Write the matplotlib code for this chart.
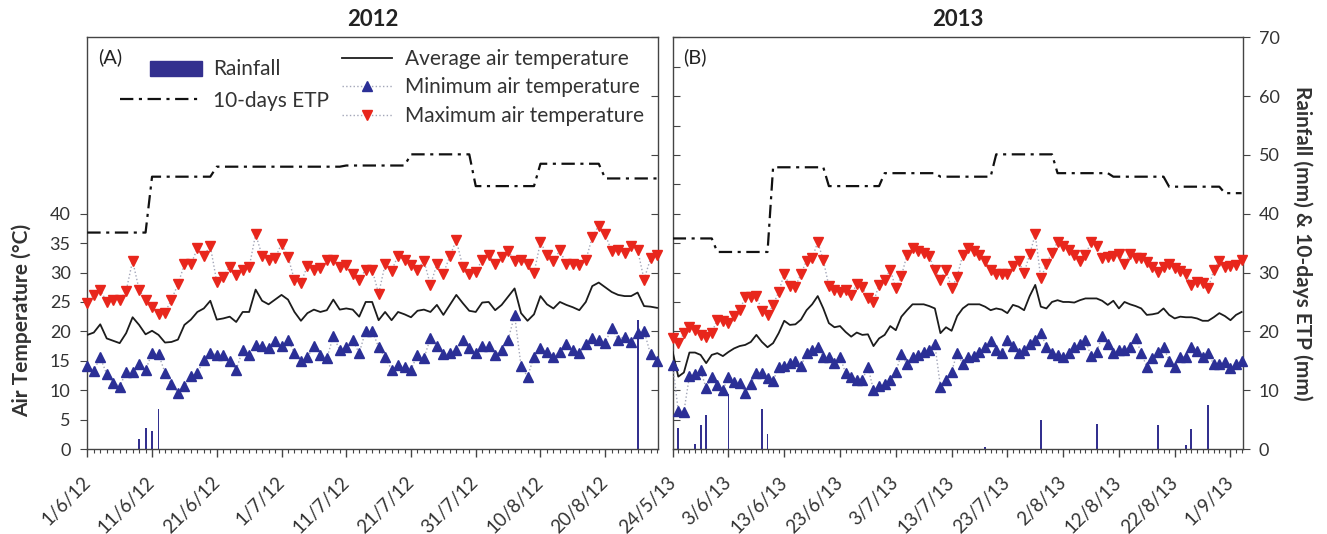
import numpy as np
import pandas as pd
import matplotlib
matplotlib.use("Agg")
import matplotlib.pyplot as plt
import matplotlib.dates as mdates
from matplotlib.lines import Line2D
from matplotlib.patches import Patch, Rectangle
from matplotlib.legend_handler import HandlerPatch

plt.rcParams['font.family'] = ['Lato', 'DejaVu Sans']

# ------------------------- data: 2012 (panel A) -------------------------
start_2012 = "2012-06-01"
tmax_2012 = [24.8, 26.2, 27.1, 25.0, 25.4, 25.3, 26.9, 32.0, 27.1, 25.4,
             24.2, 22.9, 23.2, 25.4, 28.0, 31.4, 31.4, 34.1, 32.9, 34.5,
             28.4, 29.3, 31.0, 29.6, 30.5, 30.9, 36.5, 32.9, 32.1, 32.4,
             34.9, 32.7, 28.7, 28.3, 31.1, 30.4, 30.7, 32.1, 32.1, 31.0,
             31.3, 29.8, 28.8, 30.5, 30.5, 26.4, 31.4, 30.3, 32.9, 32.1,
             31.3, 30.5, 32.0, 27.9, 31.4, 29.8, 32.8, 35.5, 31.0, 29.7,
             30.1, 32.2, 33.0, 31.5, 32.6, 33.7, 32.0, 32.1, 31.4, 29.9,
             35.2, 33.0, 32.0, 33.8, 31.4, 31.4, 31.3, 32.1, 36.0, 38.0,
             36.5, 33.6, 33.9, 33.4, 34.6, 33.9, 28.8, 32.4, 33.0]
tmin_2012 = [14.1, 13.3, 15.6, 12.7, 11.3, 10.6, 13.1, 13.1, 14.4, 13.4,
             16.3, 16.1, 13.0, 11.0, 9.6, 10.7, 12.4, 12.9, 15.2, 16.3,
             16.0, 16.0, 15.0, 13.5, 16.8, 16.0, 17.7, 17.5, 17.1, 18.4,
             17.5, 18.6, 16.3, 15.0, 15.6, 17.5, 16.0, 15.4, 19.2, 16.8,
             17.3, 18.5, 16.3, 20.1, 20.1, 17.3, 15.6, 13.5, 14.2, 14.0,
             13.5, 16.0, 15.4, 18.9, 17.5, 16.1, 16.3, 16.8, 18.5, 17.1,
             16.3, 17.5, 17.5, 16.0, 16.9, 18.5, 22.8, 14.1, 12.3, 15.7,
             17.1, 16.5, 15.7, 16.5, 17.8, 16.8, 16.3, 17.8, 18.9, 18.5,
             18.1, 20.5, 18.6, 19.1, 18.2, 19.8, 20.1, 16.1, 15.0]
tavg_2012 = [19.4, 19.8, 21.2, 18.8, 18.4, 18.0, 19.7, 22.4, 21.1, 19.5,
             20.1, 19.4, 18.1, 18.2, 18.6, 21.1, 22.0, 23.3, 23.9, 25.2,
             22.0, 22.2, 22.5, 21.6, 23.3, 23.3, 27.1, 25.2, 24.6, 25.4,
             26.2, 25.4, 23.3, 21.8, 23.1, 23.7, 23.3, 23.6, 25.4, 23.7,
             23.9, 23.7, 22.5, 25.0, 25.0, 21.9, 23.3, 21.9, 23.3, 22.9,
             22.4, 23.5, 23.7, 23.3, 24.5, 22.8, 24.5, 26.2, 24.8, 23.5,
             23.3, 24.9, 25.0, 23.6, 24.5, 25.9, 27.3, 23.1, 21.8, 22.9,
             26.0, 24.6, 23.9, 25.0, 24.5, 24.1, 23.6, 25.0, 27.7, 28.3,
             27.5, 26.7, 26.2, 26.0, 26.0, 26.6, 24.3, 24.2, 24.0]
rain_dates_2012 = ["2012-06-09", "2012-06-10", "2012-06-11", "2012-06-12", "2012-08-25"]
rain_mm_2012 = [1.7, 3.6, 3.0, 6.8, 22.0]
etp_2012 = [36.8, 46.3, 48.0, 48.0, 48.2, 50.1, 44.7, 48.5, 46.0]
etp_ndays_2012 = [10, 10, 10, 10, 10, 10, 10, 10, 9]

# ------------------------- data: 2013 (panel B) -------------------------
start_2013 = "2013-05-24"
tmax_2013 = [18.8, 18.0, 19.7, 20.7, 20.2, 19.4, 19.1, 19.8, 22.0, 21.8,
             21.4, 22.6, 23.6, 25.8, 25.8, 26.0, 23.5, 22.8, 24.5, 26.7,
             29.8, 27.7, 27.6, 29.8, 32.0, 32.4, 35.2, 32.1, 27.7, 27.0,
             26.7, 27.1, 26.2, 28.0, 27.5, 25.6, 25.0, 27.9, 28.8, 30.5,
             27.3, 29.4, 33.0, 34.1, 33.7, 33.4, 32.8, 30.4, 28.8, 30.5,
             27.3, 29.3, 33.0, 34.1, 33.7, 33.0, 32.0, 30.4, 29.7, 29.7,
             29.8, 31.1, 32.0, 29.9, 33.1, 36.5, 29.0, 31.4, 33.4, 35.2,
             34.5, 33.8, 33.0, 32.0, 33.0, 35.2, 34.5, 32.5, 32.7, 32.8,
             33.1, 31.4, 33.1, 32.5, 32.4, 31.8, 31.0, 30.1, 30.9, 31.4,
             30.7, 30.3, 29.8, 27.9, 28.4, 28.2, 27.3, 30.4, 32.0, 30.9,
             31.1, 31.3, 32.2]
tmin_2013 = [14.3, 6.5, 6.3, 12.4, 12.7, 13.4, 10.3, 12.3, 10.9, 10.1,
             12.2, 11.4, 11.3, 9.6, 11.0, 13.0, 13.0, 12.0, 11.6, 13.9,
             14.1, 14.6, 15.0, 14.1, 16.3, 16.8, 17.3, 15.7, 15.6, 14.7,
             15.7, 12.9, 12.2, 11.8, 11.7, 14.0, 10.0, 10.7, 11.0, 11.7,
             13.1, 16.1, 14.4, 15.6, 16.0, 16.5, 16.9, 17.8, 10.6, 11.7,
             13.1, 16.4, 14.4, 15.6, 15.8, 16.5, 17.3, 18.3, 16.8, 16.3,
             18.5, 17.5, 16.3, 16.8, 17.8, 18.6, 19.8, 17.3, 16.3, 16.0,
             15.6, 16.3, 17.3, 17.8, 18.5, 15.8, 16.5, 19.2, 17.9, 16.3,
             16.9, 16.9, 17.3, 18.8, 16.3, 14.0, 15.4, 16.5, 17.4, 15.0,
             14.0, 15.6, 15.7, 17.4, 16.7, 15.7, 16.3, 14.4, 14.5, 14.8,
             13.7, 14.4, 15.0]
tavg_2013 = [16.5, 12.3, 13.0, 16.4, 16.4, 16.0, 14.6, 16.0, 16.3, 15.8,
             16.5, 17.1, 17.5, 17.7, 18.2, 19.4, 18.2, 17.3, 18.0, 19.7,
             21.8, 21.1, 21.2, 22.0, 23.6, 24.6, 26.0, 23.9, 21.4, 20.7,
             20.9, 19.9, 19.1, 19.8, 19.4, 19.5, 17.5, 18.8, 19.4, 20.9,
             20.2, 22.5, 23.6, 24.6, 24.6, 24.6, 24.3, 23.9, 19.7, 20.7,
             20.1, 22.6, 23.9, 24.6, 24.6, 24.6, 24.2, 23.6, 23.9, 23.7,
             23.1, 24.5, 24.2, 23.6, 26.0, 27.9, 24.2, 23.9, 25.0, 25.3,
             25.0, 25.0, 24.9, 25.3, 25.6, 25.6, 25.6, 25.2, 24.5, 25.2,
             23.9, 25.0, 24.6, 24.3, 23.9, 22.8, 22.9, 23.1, 23.9, 22.8,
             22.2, 22.5, 22.4, 22.4, 22.2, 21.8, 21.8, 22.4, 23.1, 22.6,
             21.9, 22.8, 23.3]
rain_dates_2013 = ["2013-05-25", "2013-05-28", "2013-05-29", "2013-05-30", "2013-06-03",
                   "2013-06-09", "2013-06-10", "2013-07-19", "2013-07-29", "2013-08-08",
                   "2013-08-19", "2013-08-24", "2013-08-25", "2013-08-28"]
rain_mm_2013 = [3.6, 0.9, 4.1, 5.7, 9.4, 6.8, 2.6, 0.3, 4.9, 4.3, 4.1, 0.6, 3.4, 7.5]
etp_2013 = [35.8, 33.5, 47.9, 44.7, 46.9, 46.3, 50.1, 46.9, 46.3, 44.6, 43.5]
etp_ndays_2013 = [8, 10, 10, 10, 10, 10, 11, 10, 10, 10, 4]

# ------------------------- style -------------------------
RAIN_C = "#33308f"
MIN_C = "#2b2f96"
MAX_C = "#e8261c"
AVG_C = "#1c1c1c"
DOT_C = "#a3a6b8"
AX_C = "#444444"
TXT_C = "#333333"
ETP_LS = (0, (6, 2.5, 1.4, 2.5))

W, H = 1327, 534
fig = plt.figure(figsize=(W / 100, H / 100), dpi=100)
ax1 = fig.add_axes([87.3 / W, (H - 449) / H, 571 / W, 411.7 / H])
ax2 = fig.add_axes([672.7 / W, (H - 449) / H, 570.6 / W, 411.7 / H])


def draw_panel(ax, start, tmax, tmin, tavg, rain_dates, rain_mm, etp, etp_nd,
               span, bar_w, n_major):
    days = pd.date_range(start, periods=len(tavg), freq="D")
    x = mdates.date2num(days)
    x0 = mdates.date2num(pd.Timestamp(start))
    rx = mdates.date2num(pd.to_datetime(rain_dates))
    ax.bar(rx, rain_mm, width=bar_w, color=RAIN_C, zorder=2)
    etp_daily = np.repeat(etp, etp_nd)
    ax.plot(x, etp_daily, color="#111111", lw=1.6, ls=ETP_LS, zorder=3)
    ax.plot(x, tavg, color=AVG_C, lw=1.3, zorder=4)
    ax.plot(x, tmin, ls=":", color=DOT_C, lw=1.0, marker="^", ms=6.5,
            mfc=MIN_C, mec=MIN_C, zorder=5, clip_on=False)
    ax.plot(x, tmax, ls=":", color=DOT_C, lw=1.0, marker="v", ms=6.5,
            mfc=MAX_C, mec=MAX_C, zorder=5, clip_on=False)
    ax.set_xlim(x0, x0 + span)
    ax.set_ylim(0, 70)
    major = pd.date_range(start, periods=n_major, freq="10D")
    ax.set_xticks(mdates.date2num(major))
    ax.set_xticklabels([f"{d.day}/{d.month}/{d:%y}" for d in major],
                       rotation=45, ha="right", va="center",
                       rotation_mode="anchor", fontsize=13.5, color=TXT_C)
    minor = mdates.date2num(pd.date_range(start, periods=int(span) + 1, freq="D"))
    ax.set_xticks(minor, minor=True)
    ax.tick_params(axis="x", which="major", direction="out", length=6,
                   width=1, color=AX_C, pad=16)
    ax.tick_params(axis="x", which="minor", direction="out", length=3,
                   width=0.8, color=AX_C)
    for s in ax.spines.values():
        s.set_color(AX_C)
        s.set_linewidth(1.0)


draw_panel(ax1, start_2012, tmax_2012, tmin_2012, tavg_2012, rain_dates_2012,
           rain_mm_2012, etp_2012, etp_ndays_2012, 88.2, 0.3, 9)
draw_panel(ax2, start_2013, tmax_2013, tmin_2013, tavg_2013, rain_dates_2013,
           rain_mm_2013, etp_2013, etp_ndays_2013, 102.3, 0.35, 11)

# y axes
ax1.set_yticks(range(0, 41, 5))
ax1.tick_params(axis="y", direction="out", length=5, color=AX_C,
                labelsize=13, labelcolor=TXT_C, pad=7)
ax1r = ax1.twinx()
ax1r.set_ylim(0, 70)
ax1r.set_yticks(range(0, 71, 10))
ax1r.tick_params(axis="y", direction="in", length=5, color=AX_C, labelright=False)
for s in ax1r.spines.values():
    s.set_visible(False)

ax2.set_yticks(range(0, 71, 5))
ax2.tick_params(axis="y", direction="in", length=5, color=AX_C, labelleft=False)
ax2r = ax2.twinx()
ax2r.set_ylim(0, 70)
ax2r.set_yticks(range(0, 71, 10))
ax2r.tick_params(axis="y", direction="out", length=5, color=AX_C,
                 labelsize=13, labelcolor=TXT_C, pad=6)
for s in ax2r.spines.values():
    s.set_visible(False)

# texts
fig.text(22 / W, 1 - 320 / H, "Air Temperature (°C)", rotation=90, ha="center",
         va="center", fontsize=15, fontweight="bold", color=TXT_C)
fig.text(1302 / W, 1 - 243 / H, "Rainfall (mm) & 10-days ETP (mm)", rotation=270,
         ha="center", va="center", fontsize=15, fontweight="bold", color=TXT_C)
fig.text(373 / W, 1 - 19 / H, "2012", ha="center", va="center", fontsize=16,
         fontweight="bold", color="#222222")
fig.text(958 / W, 1 - 19 / H, "2013", ha="center", va="center", fontsize=16,
         fontweight="bold", color="#222222")
fig.text(110 / W, 1 - 57 / H, "(A)", ha="center", va="center", fontsize=14.5, color="#222222")
fig.text(695 / W, 1 - 57 / H, "(B)", ha="center", va="center", fontsize=14.5, color="#222222")


# legends
def rain_patch(legend, orig_handle, xdescent, ydescent, width, height, fontsize):
    return Rectangle((-xdescent + 0.37 * width, -ydescent - 0.05 * height),
                     0.63 * width, 1.0 * height)


h1 = [Patch(facecolor=RAIN_C, edgecolor=RAIN_C),
      Line2D([], [], color="#111111", lw=1.6, ls=ETP_LS)]
leg1 = ax1.legend(h1, ["Rainfall", "10-days ETP"], loc="upper left",
                  bbox_to_anchor=(0.057, 0.947), frameon=False, fontsize=15,
                  handlelength=3.94, handletextpad=0.53, labelspacing=0.56,
                  borderpad=0, borderaxespad=0, labelcolor=TXT_C,
                  handler_map={Patch: HandlerPatch(patch_func=rain_patch)})
ax1.add_artist(leg1)
h2 = [Line2D([], [], color=AVG_C, lw=1.3),
      Line2D([], [], ls=":", color=DOT_C, lw=1.0, marker="^", ms=6.5, mfc=MIN_C, mec=MIN_C),
      Line2D([], [], ls=":", color=DOT_C, lw=1.0, marker="v", ms=6.5, mfc=MAX_C, mec=MAX_C)]
ax1.legend(h2, ["Average air temperature", "Minimum air temperature",
                "Maximum air temperature"], loc="upper left",
           bbox_to_anchor=(0.446, 0.972), frameon=False, fontsize=15,
           handlelength=2.4, handletextpad=0.62, labelspacing=0.41, numpoints=1,
           borderpad=0, borderaxespad=0, labelcolor=TXT_C)

fig.savefig("out.png", dpi=100)
